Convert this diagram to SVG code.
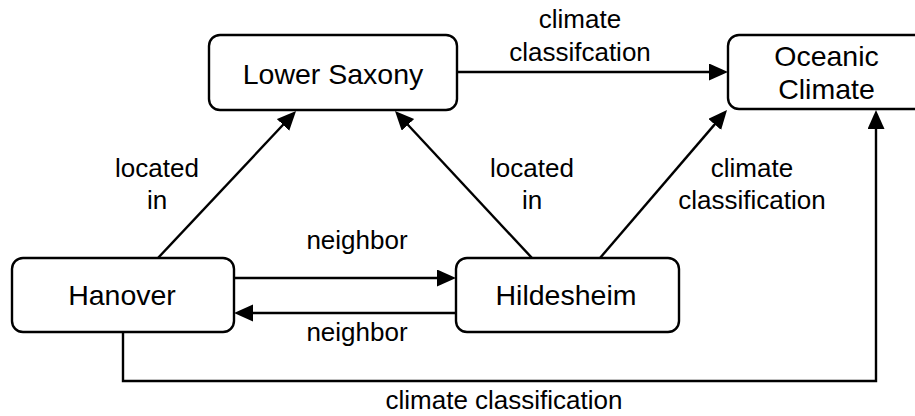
<svg xmlns="http://www.w3.org/2000/svg" width="915" height="416" viewBox="0 0 915 416">
  <style>
    .node rect { fill: #ffffff; stroke: #000000; stroke-width: 2.4; }
    .node text { font-family: "Liberation Sans", Arial, sans-serif; font-size: 28.5px; fill: #000000; text-anchor: middle; }
    .edge { fill: none; stroke: #000000; stroke-width: 2.4; marker-end: url(#arrow); }
    .label { font-family: "Liberation Sans", Arial, sans-serif; font-size: 26px; fill: #000000; text-anchor: middle; }
  </style>
  <defs>
    <marker id="arrow" markerUnits="userSpaceOnUse" markerWidth="20" markerHeight="18" refX="9" refY="8.5" orient="auto">
      <path d="M0,0 L19,8.5 L0,17 Z" fill="#000000"/>
    </marker>
  </defs>

  <rect width="915" height="416" fill="#ffffff"/>

  <!-- connectors -->
  <g id="edges">
    <line class="edge" x1="457" y1="72" x2="718" y2="72"/>
    <line class="edge" x1="234" y1="278" x2="446" y2="278"/>
    <line class="edge" x1="456" y1="313" x2="244" y2="313"/>
    <line class="edge" x1="158" y1="258" x2="289.2" y2="118.3"/>
    <line class="edge" x1="532" y1="258" x2="401.8" y2="118.3"/>
    <line class="edge" x1="600" y1="258" x2="720.5" y2="117.6"/>
    <polyline class="edge" points="123,332 123,381 876,381 876,120"/>
  </g>

  <!-- connector labels -->
  <g id="edge-labels">
    <text class="label" x="580" y="28">climate</text>
    <text class="label" x="580" y="61">classifcation</text>
    <text class="label" x="157" y="177">located</text>
    <text class="label" x="157" y="209">in</text>
    <text class="label" x="532" y="177">located</text>
    <text class="label" x="532" y="209">in</text>
    <text class="label" x="752" y="177">climate</text>
    <text class="label" x="752" y="209">classification</text>
    <text class="label" x="357" y="249">neighbor</text>
    <text class="label" x="357" y="341">neighbor</text>
    <text class="label" x="504" y="409">climate classification</text>
  </g>

  <!-- nodes -->
  <g id="lower-saxony" class="node">
    <rect x="209" y="35" width="248" height="75" rx="11"/>
    <text x="333" y="84">Lower Saxony</text>
  </g>
  <g id="oceanic-climate" class="node">
    <rect x="728" y="35" width="197" height="74" rx="11"/>
    <text x="826.5" y="66">Oceanic</text>
    <text x="826.5" y="99">Climate</text>
  </g>
  <g id="hanover" class="node">
    <rect x="12" y="258" width="222" height="74" rx="11"/>
    <text x="122" y="305">Hanover</text>
  </g>
  <g id="hildesheim" class="node">
    <rect x="456" y="258" width="223" height="74" rx="11"/>
    <text x="566" y="305">Hildesheim</text>
  </g>
</svg>
